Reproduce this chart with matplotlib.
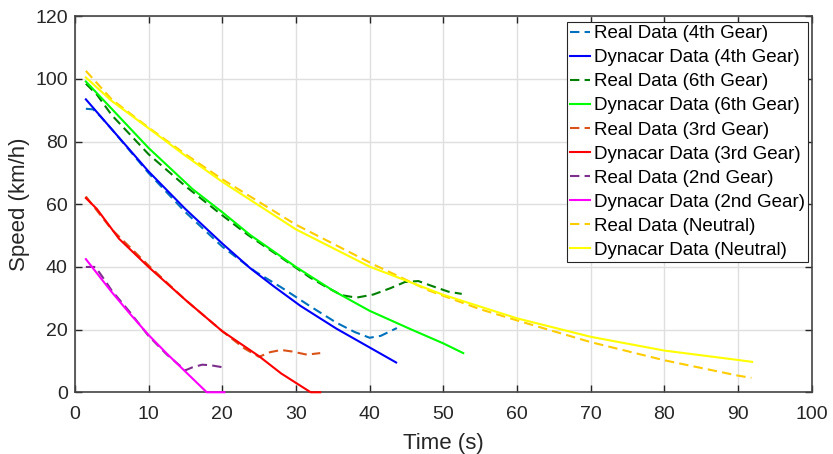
import numpy as np
import matplotlib
matplotlib.use("Agg")
import matplotlib.pyplot as plt

plt.rcParams['font.family'] = ['Liberation Sans', 'DejaVu Sans']

# time (s) / speed (km/h)
real4_t = [1.5, 2.5, 3.5, 5, 10, 15, 20, 24.5, 28, 31.9, 35.5, 38, 40, 41.5, 43.7]
real4_v = [90.5, 90.3, 88, 84, 70, 57.5, 46.5, 38.5, 33.5, 27.5, 22.2, 19.2, 17.4, 18, 20.5]
dyn4_t = [1.5, 5, 10, 15, 20, 23.8, 27, 30.6, 35.5, 40, 43.6]
dyn4_v = [93.5, 84, 70.5, 58.5, 47.5, 39.6, 33.8, 27.6, 20.3, 14.3, 9.5]

real6_t = [1.5, 3, 5, 10, 15, 20, 23.5, 28, 32, 34.2, 36.2, 38.2, 40.5, 42.8, 44.8, 46.6, 48.6, 50.7, 52.5]
real6_v = [98.5, 95, 88.5, 76, 65.8, 56.5, 50.2, 43, 36.5, 33.5, 31, 30.2, 31.2, 33.2, 35.2, 35.5, 33.8, 32.1, 31.4]
dyn6_t = [1.5, 5, 10, 16, 20, 23.8, 30, 35, 40, 45.5, 50, 52.7]
dyn6_v = [99.2, 90.5, 78, 64.8, 57.5, 50.2, 40, 32.5, 26, 20.2, 15.6, 12.5]

real3_t = [1.5, 5, 10, 15, 20, 23, 25, 26.5, 28, 29.5, 31.5, 33.3]
real3_v = [62.5, 52, 40.5, 29.5, 19.5, 14, 11.3, 12.8, 13.5, 13, 12, 12.5]
dyn3_t = [1.5, 3, 6, 10, 15, 20, 25, 28, 30, 32, 33.3]
dyn3_v = [62, 58.5, 49, 40, 29.5, 19.5, 11.5, 6, 3, 0, 0]

real2_t = [1.5, 2.8, 4, 5, 7.5, 10, 12.5, 15, 16, 17.3, 18.5, 20]
real2_v = [40, 40, 36, 32.5, 25.5, 18, 12, 7, 8, 8.8, 8.6, 8]
dyn2_t = [1.5, 3, 5, 7.5, 10, 12.5, 15, 17.9, 20.3]
dyn2_v = [42.5, 38, 32, 25, 18.3, 12.3, 6.6, 0, 0]

realn_t = [1.5, 5, 10, 15, 20, 30, 40.7, 48, 50.7, 55, 60.9, 70, 80, 90, 91.8]
realn_v = [102.6, 93.5, 84.5, 76, 68, 53.5, 40.6, 32.5, 30.2, 26.5, 22.3, 16, 10.2, 5.3, 4.6]
dynn_t = [1.5, 5, 10, 15, 20, 30, 40, 50, 60, 70, 80, 90, 91.9]
dynn_v = [100.5, 93, 84.3, 75.5, 67.2, 52, 40.1, 31.1, 23.6, 17.7, 13.3, 10.3, 9.7]

series = [
    (real4_t, real4_v, "#0072BD", True, "Real Data (4th Gear)"),
    (dyn4_t, dyn4_v, "#0000FF", False, "Dynacar Data (4th Gear)"),
    (real6_t, real6_v, "#008000", True, "Real Data (6th Gear)"),
    (dyn6_t, dyn6_v, "#00FF00", False, "Dynacar Data (6th Gear)"),
    (real3_t, real3_v, "#D95319", True, "Real Data (3rd Gear)"),
    (dyn3_t, dyn3_v, "#FF0000", False, "Dynacar Data (3rd Gear)"),
    (real2_t, real2_v, "#7E2F8E", True, "Real Data (2nd Gear)"),
    (dyn2_t, dyn2_v, "#FF00FF", False, "Dynacar Data (2nd Gear)"),
    (realn_t, realn_v, "#FFCC00", True, "Real Data (Neutral)"),
    (dynn_t, dynn_v, "#FFFF00", False, "Dynacar Data (Neutral)"),
]

fig = plt.figure(figsize=(8.33, 4.54), dpi=100)
ax = fig.add_axes([0.0898, 0.136, 0.8848, 0.828])

for t, v, c, dashed, lab in series:
    if dashed:
        ax.plot(t, v, color=c, lw=1.5, dashes=(4.5, 2.5), label=lab,
                clip_on=False, zorder=3)
    else:
        ax.plot(t, v, color=c, lw=1.5, label=lab, clip_on=False, zorder=3)

ax.set_xlim(0, 100)
ax.set_ylim(0, 120)
ax.set_xticks(np.arange(0, 101, 10))
ax.set_yticks(np.arange(0, 121, 20))
ax.grid(True, color="#DFDFDF", lw=1)
ax.set_axisbelow(True)
ax.tick_params(direction="in", top=True, right=True, labelsize=14,
               colors="#262626", length=5, width=1)
ax.tick_params(axis="x", pad=10)
ax.tick_params(axis="y", pad=5)
for s in ax.spines.values():
    s.set_color("#444444")
    s.set_linewidth(1.2)

ax.set_xlabel("Time (s)", fontsize=16, color="#262626", labelpad=7)
ax.set_ylabel("Speed (km/h)", fontsize=16, color="#262626", labelpad=4)

leg = ax.legend(loc="upper right", bbox_to_anchor=(0.9945, 0.984), fontsize=13.5,
                handlelength=1.1, handletextpad=0.2, labelspacing=0.37,
                borderpad=0.15, borderaxespad=0, fancybox=False, framealpha=1)
leg.get_frame().set_edgecolor("#262626")
leg.get_frame().set_linewidth(0.8)
leg.set_zorder(5)

fig.savefig("out.png", dpi=100)
